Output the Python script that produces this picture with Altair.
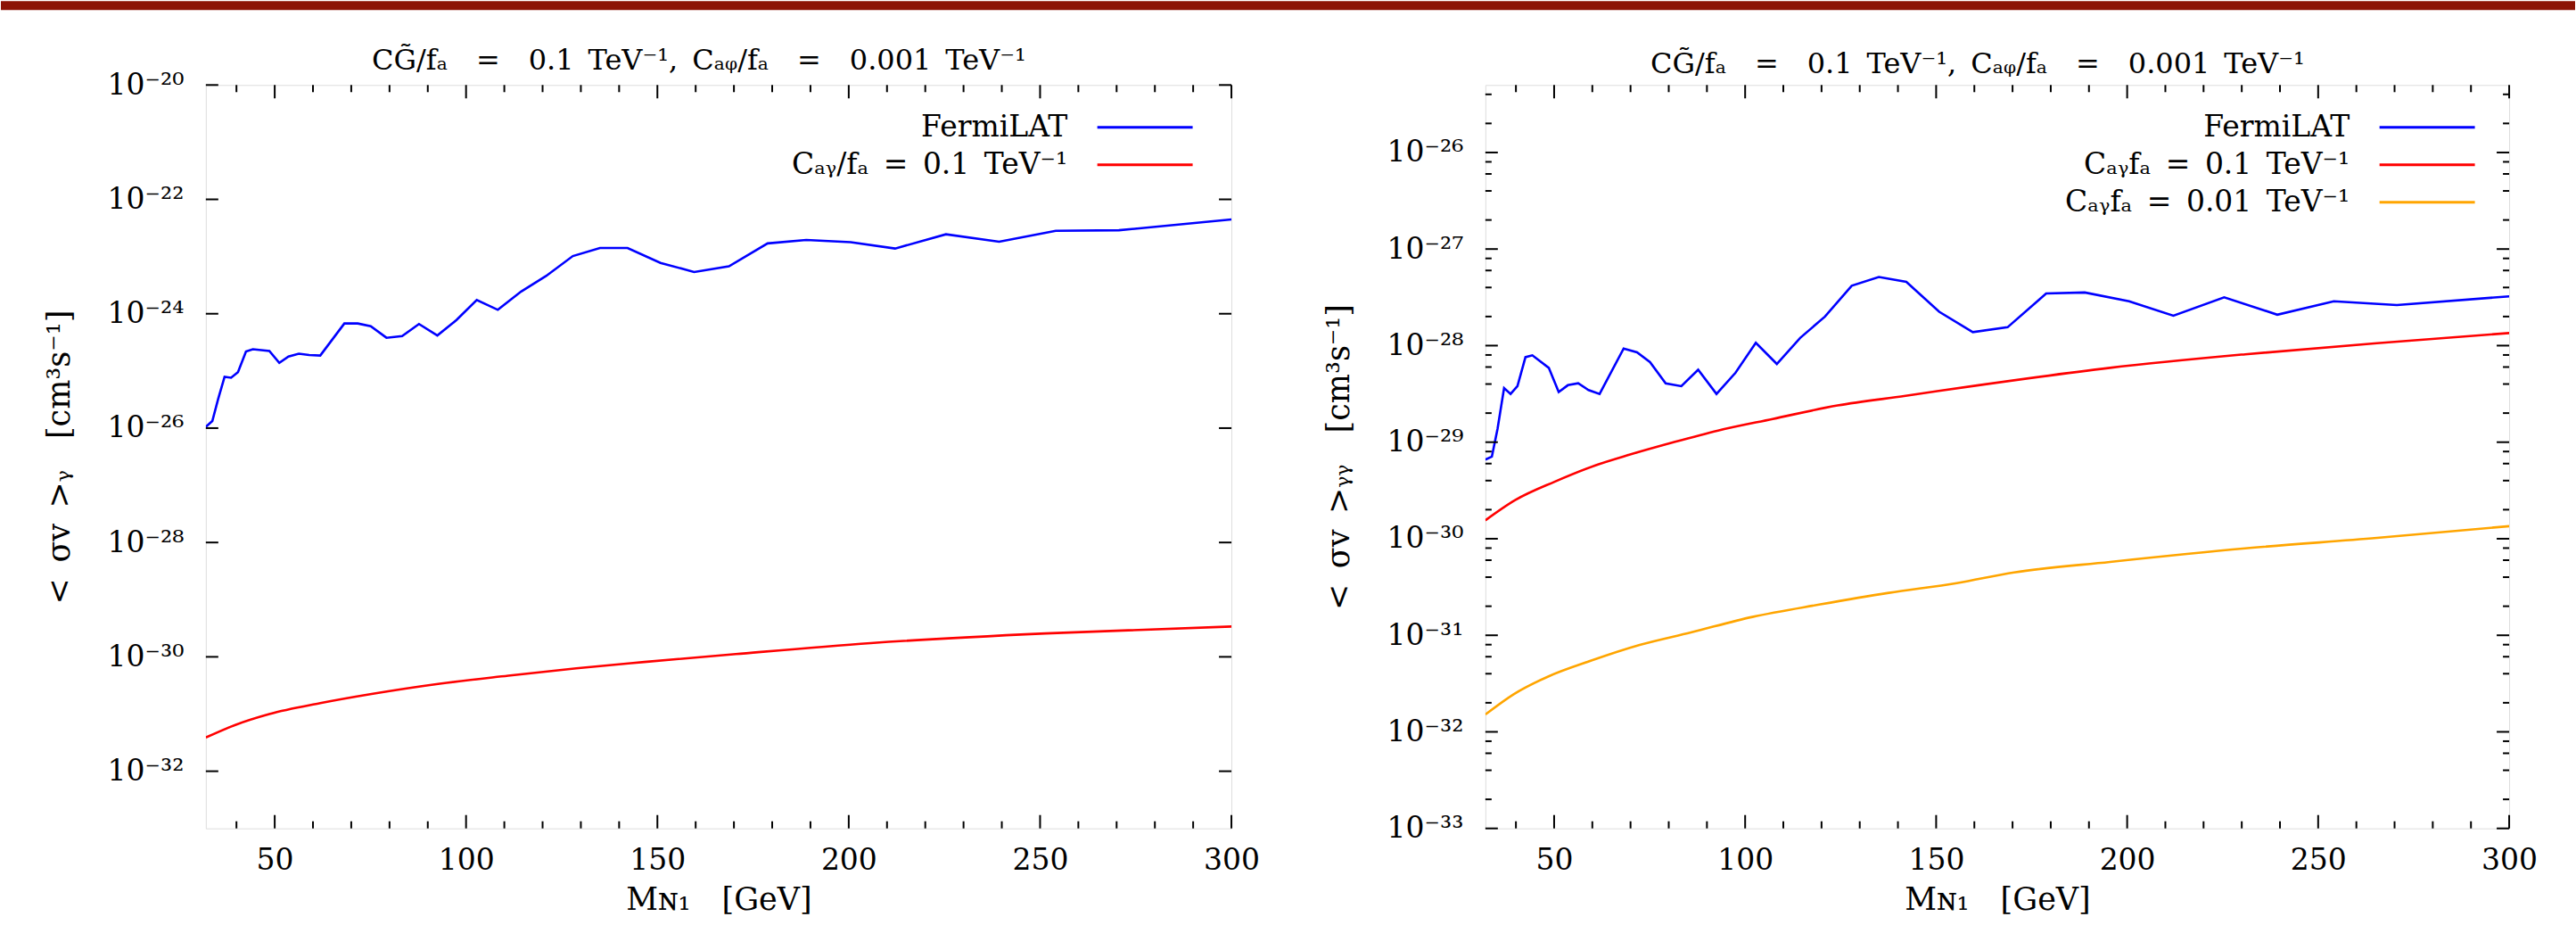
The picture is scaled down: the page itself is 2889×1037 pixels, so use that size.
import math
import altair as alt
import pandas as pd

# ---------------- data ----------------
mass = [32.0, 33.7, 35.2, 36.9, 38.6, 40.4, 42.5, 44.3, 48.6, 51.2, 53.6, 56.3, 59.0, 61.9,
        68.2, 71.7, 75.1, 79.2, 83.3, 87.7, 92.5, 97.5, 102.8, 108.3, 114.4, 120.9, 127.9,
        135.0, 142.2, 150.8, 159.6, 168.7, 178.8, 188.9, 200.5, 212.1, 225.4, 239.3, 254.1,
        270.6, 300.0]

fermi_left = [1.05e-26, 1.33e-26, 3.2e-26, 7.9e-26, 7.6e-26, 9.5e-26, 2.19e-25, 2.40e-25,
              2.24e-25, 1.38e-25, 1.78e-25, 2.0e-25, 1.9e-25, 1.86e-25, 6.76e-25, 6.76e-25,
              6.03e-25, 3.80e-25, 4.07e-25, 6.61e-25, 4.17e-25, 7.76e-25, 1.74e-24, 1.17e-24,
              2.45e-24, 4.57e-24, 1.02e-23, 1.41e-23, 1.41e-23, 7.76e-24, 5.37e-24, 6.76e-24,
              1.70e-23, 1.95e-23, 1.78e-23, 1.38e-23, 2.45e-23, 1.82e-23, 2.82e-23, 2.88e-23,
              4.47e-23]

fermi_right = [6.6e-30, 7.08e-30, 1.38e-29, 3.63e-29, 3.16e-29, 3.80e-29, 7.59e-29, 7.94e-29,
               5.89e-29, 3.31e-29, 3.89e-29, 4.07e-29, 3.47e-29, 3.16e-29, 9.33e-29, 8.51e-29,
               6.76e-29, 4.07e-29, 3.80e-29, 5.62e-29, 3.16e-29, 5.25e-29, 1.07e-28, 6.46e-29,
               1.20e-28, 2.0e-28, 4.17e-28, 5.13e-28, 4.57e-28, 2.24e-28, 1.38e-28, 1.55e-28,
               3.47e-28, 3.55e-28, 2.88e-28, 2.04e-28, 3.16e-28, 2.09e-28, 2.88e-28, 2.63e-28,
               3.24e-28]

red_left_mass = [32.0, 39.7, 48.6, 61.9, 75.3, 93.1, 111.0, 128.8, 146.6, 170.5, 205.7, 251.4, 300.0]
red_left = [3.89e-32, 6.46e-32, 1.0e-31, 1.55e-31, 2.24e-31, 3.39e-31, 4.68e-31, 6.31e-31,
            8.13e-31, 1.12e-30, 1.74e-30, 2.57e-30, 3.39e-30]

red_right_mass = [32.0, 39.8, 50.1, 60.8, 69.7, 80.4, 92.9, 107.2, 124.2, 142.0, 161.1, 195.5,
                  230.9, 265.4, 300.0]
red_right = [1.55e-30, 2.51e-30, 3.89e-30, 5.75e-30, 7.41e-30, 9.77e-30, 1.32e-29, 1.74e-29,
             2.40e-29, 3.02e-29, 3.89e-29, 5.89e-29, 8.13e-29, 1.06e-28, 1.35e-28]

orange_mass = [32.0, 39.4, 48.3, 59.9, 72.4, 85.8, 101.9, 119.7, 137.6, 155.4, 170.4, 195.5,
               230.9, 265.4, 300.0]
orange_right = [1.51e-32, 2.45e-32, 3.72e-32, 5.50e-32, 7.94e-32, 1.07e-31, 1.55e-31, 2.09e-31,
                2.75e-31, 3.47e-31, 4.47e-31, 5.75e-31, 7.94e-31, 1.02e-30, 1.35e-30]

# ticks
x_major = [50, 100, 150, 200, 250, 300]
x_minor = [40, 60, 70, 80, 90, 110, 120, 130, 140, 160, 170, 180, 190, 210, 220, 230, 240,
           260, 270, 280, 290]
y_major_left = [1e-20, 1e-22, 1e-24, 1e-26, 1e-28, 1e-30, 1e-32]
y_major_right = [1e-26, 1e-27, 1e-28, 1e-29, 1e-30, 1e-31, 1e-32, 1e-33]
y_minor_right = [k * 10.0 ** e for e in range(-33, -25) for k in (2, 4, 6, 8) if k * 10.0 ** e < 5e-26]

# text (en/em spaces keep the wide math spacing; SVG collapses ordinary double spaces)
EN, EM = "\u2002", "\u2003"
TITLE = f"CG̃/fₐ{EM}={EM}0.1{EN}TeV⁻¹,{EN}Cₐᵩ/fₐ{EM}={EM}0.001{EN}TeV⁻¹"
X_TITLE = f"Mɴ₁{EM}[GeV]"
Y_TITLE_L = f"<{EN}σv{EN}>ᵧ{EM}[cm³s⁻¹]"
Y_TITLE_R = f"<{EN}σv{EN}>ᵧᵧ{EM}[cm³s⁻¹]"
LBL_FERMI = "FermiLAT"
LBL_L_RED = f"Cₐᵧ/fₐ{EN}={EN}0.1{EN}TeV⁻¹"
LBL_R_RED = f"Cₐᵧfₐ{EN}={EN}0.1{EN}TeV⁻¹"
LBL_R_ORANGE = f"Cₐᵧfₐ{EN}={EN}0.01{EN}TeV⁻¹"

BLUE, RED, ORANGE = "#0000FF", "#FF0000", "#FFA500"
FONT = "DejaVu Serif"
FS_TICK = 33
FS_TITLE = 35
FS_LEG = 33
FS_HEAD = 32

SUP = str.maketrans("-0123456789", "⁻⁰¹²³⁴⁵⁶⁷⁸⁹")


def label_expr(values):
    expr = "''"
    for v in values:
        e = int(round(math.log10(v)))
        expr = f"round(log(datum.value)/LN10) == {e} ? '10{str(e).translate(SUP)}' : ({expr})"
    return expr


def panel(W, H, ydomain, ymajor, yminor, ytitle, fermi_vals, curve_df, names, colors,
          legend_x, legend_y, title_offset):
    xscale = alt.Scale(domain=[32, 300], nice=False, zero=False)
    yscale = alt.Scale(type="log", domain=ydomain, nice=False)
    legend = alt.Legend(orient="none", legendX=legend_x, legendY=legend_y, direction="vertical",
                        symbolType="M -1 0 H 9.7", symbolSize=400, symbolStrokeWidth=3,
                        symbolOffset=49, labelAlign="right", labelOffset={"expr": "-60"},
                        labelFontSize=FS_LEG, labelFont=FONT, labelColor="black",
                        labelLimit=1200, rowPadding=8, padding=0, symbolOpacity=1)
    cscale = alt.Scale(domain=names, range=colors)
    xaxis = alt.Axis(values=x_major, title=X_TITLE, grid=False, domain=False, ticks=False,
                     tickSize=0, labelFontSize=FS_TICK, labelFont=FONT, labelPadding=20,
                     titleFontSize=FS_TITLE, titleFont=FONT, titleFontWeight="normal",
                     titlePadding=10, labelColor="black", titleColor="black", labelFlush=False)
    yaxis = alt.Axis(values=ymajor, labelExpr=label_expr(ymajor), title=ytitle, grid=False,
                     domain=False, ticks=False, tickSize=0, labelFontSize=FS_TICK, labelFont=FONT,
                     labelPadding=25, titleFontSize=FS_TITLE, titleFont=FONT,
                     titleFontWeight="normal", titlePadding=36, labelColor="black",
                     titleColor="black", labelFlush=False)

    fermi_df = pd.DataFrame({"m": mass, "v": fermi_vals, "s": LBL_FERMI})
    fermi = alt.Chart(fermi_df).mark_line(strokeWidth=2.6, clip=True).encode(
        x=alt.X("m:Q", scale=xscale, axis=xaxis),
        y=alt.Y("v:Q", scale=yscale, axis=yaxis),
        color=alt.Color("s:N", scale=cscale, legend=legend, title=None),
    )
    curves = alt.Chart(curve_df).mark_line(strokeWidth=2.6, clip=True, interpolate="monotone").encode(
        x=alt.X("m:Q", scale=xscale, axis=xaxis),
        y=alt.Y("v:Q", scale=yscale, axis=yaxis),
        color=alt.Color("s:N", scale=cscale, legend=legend, title=None),
    )

    def xt(vals, length, top):
        return alt.Chart(pd.DataFrame({"m": vals})).mark_rule(color="black", strokeWidth=2).encode(
            x=alt.X("m:Q", scale=xscale, axis=xaxis),
            y=alt.value(0 if top else H),
            y2=alt.value(length if top else H - length),
        )

    def yt(vals, length, right):
        return alt.Chart(pd.DataFrame({"v": vals})).mark_rule(color="black", strokeWidth=2).encode(
            y=alt.Y("v:Q", scale=yscale, axis=yaxis),
            x=alt.value(W if right else 0),
            x2=alt.value(W - length if right else length),
        )

    layers = [fermi, curves,
              xt(x_major, 15, False), xt(x_major, 15, True),
              xt(x_minor, 8, False), xt(x_minor, 8, True),
              yt(ymajor, 14, False), yt(ymajor, 14, True)]
    if yminor:
        layers += [yt(yminor, 7, False), yt(yminor, 7, True)]
    return alt.layer(*layers).properties(
        width=W, height=H,
        title=alt.Title(TITLE, fontSize=FS_HEAD, font=FONT, fontWeight="normal",
                        offset={"expr": str(title_offset)}, dx=-22, anchor="middle",
                        frame="group", color="black"),
    )


# decorative header band of the slide
band = alt.Chart(pd.DataFrame({"k": [0]})).mark_rect(color="#8C1305").encode(
    x=alt.value(-230), x2=alt.value(2659), y=alt.value(0), y2=alt.value(10)
).properties(width=10, height=10, view=alt.ViewBackground(stroke="transparent"))

left_curves = pd.DataFrame({"m": red_left_mass, "v": red_left, "s": LBL_L_RED})
right_curves = pd.concat([
    pd.DataFrame({"m": red_right_mass, "v": red_right, "s": LBL_R_RED}),
    pd.DataFrame({"m": orange_mass, "v": orange_right, "s": LBL_R_ORANGE}),
])

left = panel(1151, 834, [1e-33, 1e-20], y_major_left, [], Y_TITLE_L, fermi_left, left_curves,
             [LBL_FERMI, LBL_L_RED], [BLUE, RED], 945, 31, -6)
right = panel(1149, 834, [1e-33, 5e-26], y_major_right, y_minor_right, Y_TITLE_R, fermi_right,
              right_curves, [LBL_FERMI, LBL_R_RED, LBL_R_ORANGE], [BLUE, RED, ORANGE], 948, 31, 5)

panels = alt.hconcat(left, right, spacing=285, bounds="flush").resolve_scale(
    x="independent", y="independent", color="independent"
).resolve_legend(color="independent")

chart = alt.vconcat(band, panels, spacing=84, bounds="flush").properties(
    padding=0, background="white"
).configure_view(stroke="black", strokeWidth=2.5).configure(font=FONT)

chart.save("out.html", embed_options={"renderer": "svg", "actions": False})
